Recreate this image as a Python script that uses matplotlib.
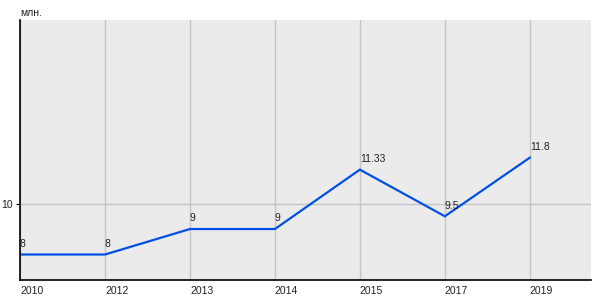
import matplotlib

matplotlib.use("Agg")
import matplotlib.pyplot as plt

years = ["2010", "2012", "2013", "2014", "2015", "2017", "2019"]
values = [8, 8, 9, 9, 11.33, 9.5, 11.8]
labels = ["8", "8", "9", "9", "11.33", "9.5", "11.8"]
y_ticks = [10]

plt.rcParams["font.family"] = ["Liberation Sans", "DejaVu Sans"]

fig = plt.figure(figsize=(6, 3), dpi=100)
ax = fig.add_axes([20 / 600, 20 / 300, 571 / 600, 260 / 300])
ax.set_facecolor("#ebebeb")

x = list(range(len(years)))
ax.plot(x, values, color="#0050e6", lw=1.6, solid_joinstyle="miter")
for xi, v, t in zip(x, values, labels):
    ax.annotate(t, (xi, v), xytext=(0, 4), textcoords="offset points",
                ha="left", va="bottom", fontsize=7.5, color="#222222")

ax.set_xlim(0, 6.72)
ax.set_ylim(7, 17.2)
ax.set_xticks(x)
ax.set_xticklabels(years, ha="left", fontsize=7.5, color="#222222")
ax.set_yticks(y_ticks)
ax.set_yticklabels([str(t) for t in y_ticks], fontsize=7.5, color="#222222")
ax.tick_params(axis="x", length=0, pad=4)
ax.tick_params(axis="y", length=3, pad=2)
ax.grid(True, color="#c4c4c4", lw=1)
ax.set_axisbelow(True)

for s in ("top", "right"):
    ax.spines[s].set_visible(False)
for s in ("left", "bottom"):
    ax.spines[s].set_color("black")
    ax.spines[s].set_linewidth(1.2)

fig.text(20 / 600, 1 - 13 / 300, "млн.", fontsize=7.5, color="#222222",
         ha="left", va="center")

fig.savefig("out.png", dpi=100)
